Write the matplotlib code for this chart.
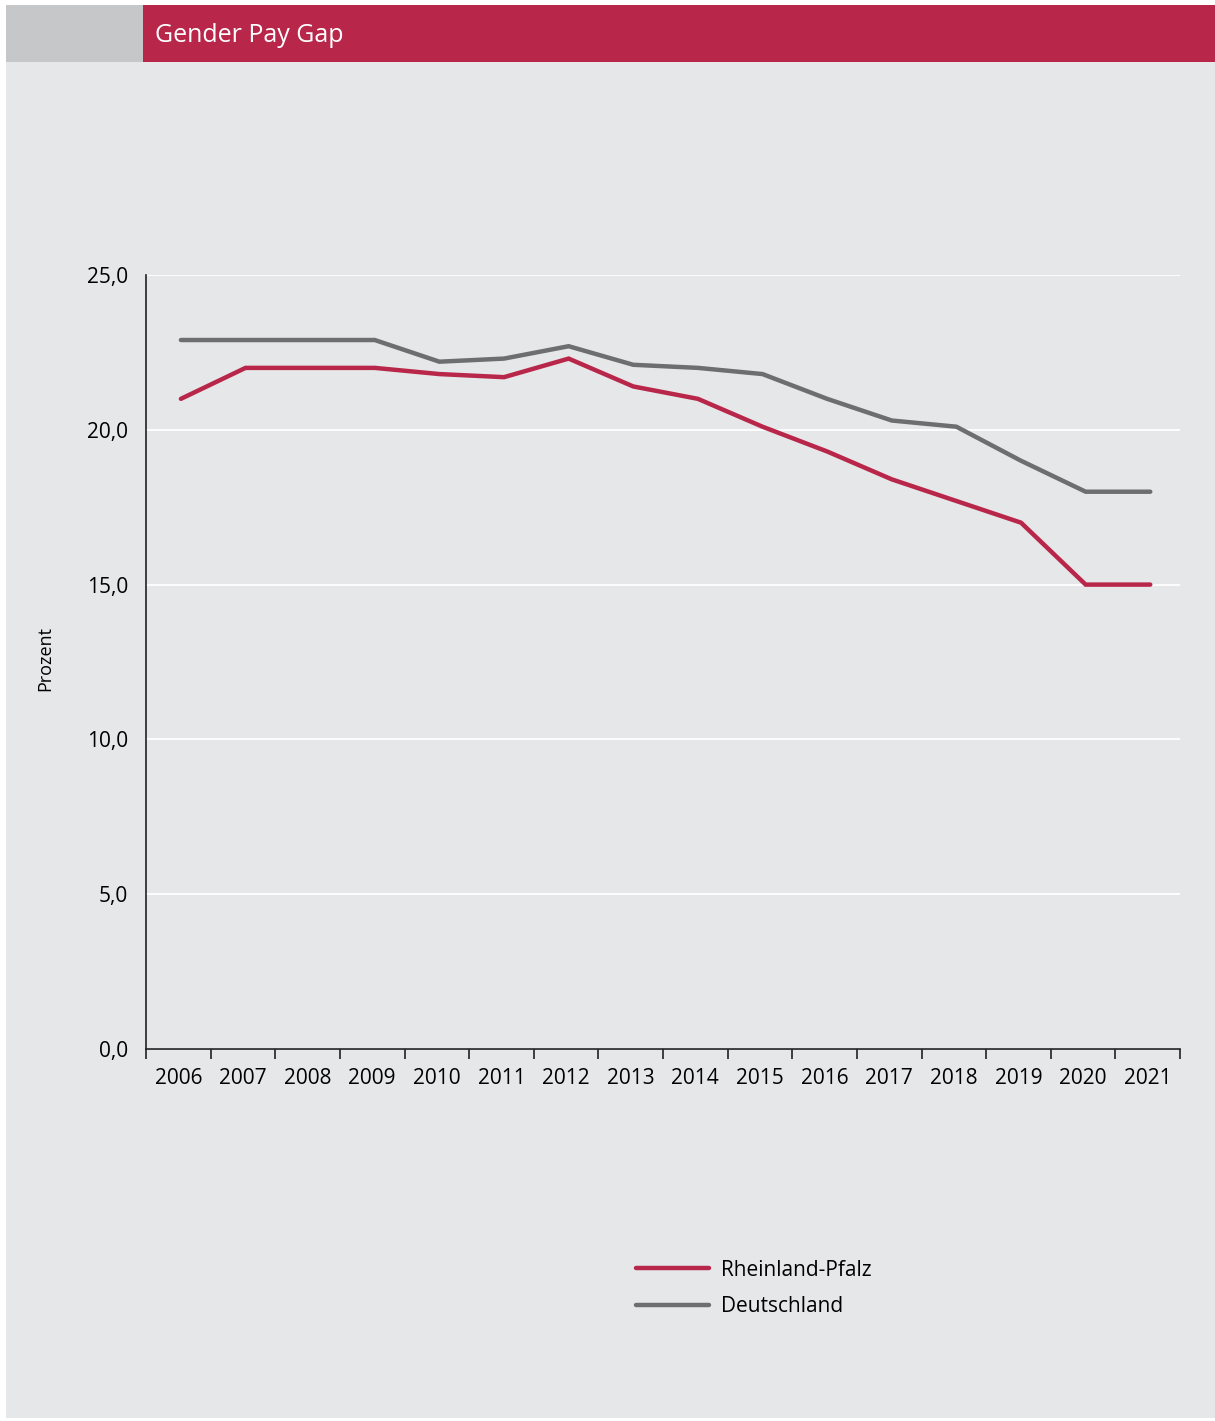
import matplotlib.pyplot as plt
from matplotlib.patches import Rectangle
from matplotlib.lines import Line2D

years = ["2006", "2007", "2008", "2009", "2010", "2011", "2012", "2013",
         "2014", "2015", "2016", "2017", "2018", "2019", "2020", "2021"]
rheinland_pfalz = [21.0, 22.0, 22.0, 22.0, 21.8, 21.7, 22.3, 21.4,
                   21.0, 20.1, 19.3, 18.4, 17.7, 17.0, 15.0, 15.0]
deutschland = [22.9, 22.9, 22.9, 22.9, 22.2, 22.3, 22.7, 22.1,
               22.0, 21.8, 21.0, 20.3, 20.1, 19.0, 18.0, 18.0]
y_ticks = [0, 5, 10, 15, 20, 25]

RED = "#b8264a"
GRAY = "#6d6e70"
BG = "#e6e7e9"

plt.rcParams['font.family'] = ['Open Sans', 'DejaVu Sans']

W, H = 1215, 1421
fig = plt.figure(figsize=(W / 100, H / 100), dpi=100, facecolor="white")

def px(x, y, w, h):
    # pixel box (top-left origin) -> figure fraction
    return (x / W, 1 - (y + h) / H, w / W, h / H)

# panel background and header bar
x0, y0, w0, h0 = px(6, 5, 1209, 1413)
fig.patches.append(Rectangle((x0, y0), w0, h0, transform=fig.transFigure,
                             facecolor=BG, edgecolor="none", zorder=-3))
x0, y0, w0, h0 = px(6, 5, 137, 57)
fig.patches.append(Rectangle((x0, y0), w0, h0, transform=fig.transFigure,
                             facecolor="#c6c7c9", edgecolor="none", zorder=-2))
x0, y0, w0, h0 = px(143, 5, 1072, 57)
fig.patches.append(Rectangle((x0, y0), w0, h0, transform=fig.transFigure,
                             facecolor=RED, edgecolor="none", zorder=-2))
fig.text(155 / W, 1 - 35 / H, "Gender Pay Gap", color="white", fontsize=18,
         va="center", ha="left")

ax = fig.add_axes(px(146, 275, 1034, 774))
ax.set_facecolor(BG)
x = [i + 0.04 for i in range(len(years))]
ax.plot(x, deutschland, color=GRAY, lw=3.2, solid_capstyle="round",
        solid_joinstyle="miter", zorder=3)
ax.plot(x, rheinland_pfalz, color=RED, lw=3.2, solid_capstyle="round",
        solid_joinstyle="miter", zorder=4)

ax.set_ylim(0, 25)
ax.set_xlim(-0.5, len(years) - 0.5)
ax.set_yticks(y_ticks)
ax.set_yticklabels([f"{v:.1f}".replace(".", ",") for v in y_ticks], fontsize=15)
ax.tick_params(axis="y", length=0, pad=13)
ax.yaxis.grid(True, color="white", lw=1.3)
ax.set_axisbelow(True)

ax.set_xticks(range(len(years)))
ax.set_xticklabels(years, fontsize=15)
ax.set_xticks([i - 0.5 for i in range(len(years) + 1)], minor=True)
ax.tick_params(axis="x", which="major", length=0, pad=14)
ax.tick_params(axis="x", which="minor", length=7, width=1.2, color="#222222")

for s in ["top", "right"]:
    ax.spines[s].set_visible(False)
for s in ["left", "bottom"]:
    ax.spines[s].set_color("#222222")
    ax.spines[s].set_linewidth(1.2)

fig.text(45 / W, 1 - 659 / H, "Prozent", rotation=90, fontsize=13,
         va="center", ha="center")

# legend
handles = [Line2D([], [], color=RED, lw=3.2, solid_capstyle="round"),
           Line2D([], [], color=GRAY, lw=3.2, solid_capstyle="round")]
fig.legend(handles, ["Rheinland-Pfalz", "Deutschland"], loc="upper left",
           bbox_to_anchor=(617 / W, 1 - 1241 / H), frameon=False, fontsize=15,
           handlelength=3.5, handletextpad=0.6, labelspacing=0.75)

fig.savefig("out.png", dpi=100, facecolor="white")
